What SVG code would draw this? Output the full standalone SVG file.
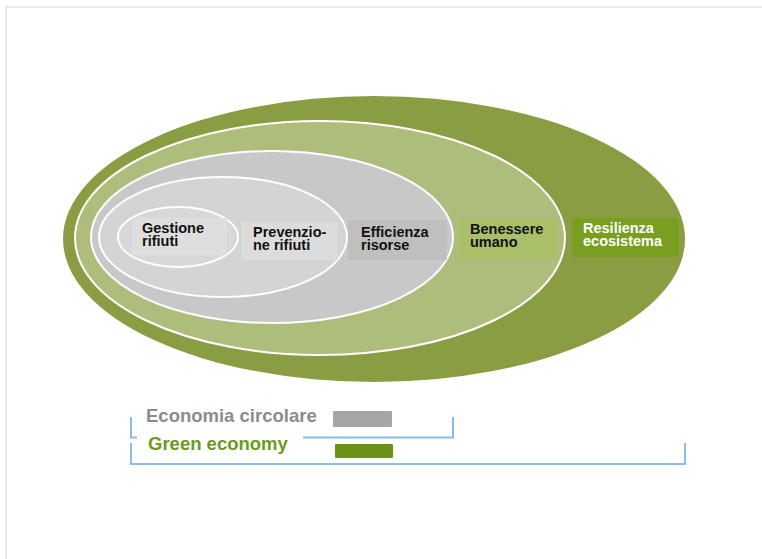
<svg xmlns="http://www.w3.org/2000/svg" width="762" height="559" viewBox="0 0 762 559">
<style>
.lbl{font-family:"Liberation Sans",Arial,sans-serif;font-weight:bold;font-size:14.5px;fill:#111}
.ring{stroke:#fff;stroke-width:2}
.br{fill:none;stroke:#8dbde6;stroke-width:2}
.leg{font-family:"Liberation Sans",Arial,sans-serif;font-weight:bold;font-size:18.5px}
</style>
<rect width="762" height="559" fill="#fff"/>
<path d="M6 559 V7 H762" fill="none" stroke="#e2e2e2" stroke-width="1.5"/>
<g id="n-resilienza">
<ellipse cx="374" cy="239" rx="311" ry="143" fill="#8a9d43"/>
</g>
<g id="n-benessere">
<ellipse class="ring" cx="320" cy="238" rx="245" ry="117" fill="#afbd7c"/>
</g>
<g id="n-efficienza">
<ellipse class="ring" cx="272" cy="237" rx="181" ry="86" fill="#c8c8c8"/>
</g>
<g id="n-prevenzione">
<ellipse class="ring" cx="223" cy="237" rx="124" ry="60" fill="#d4d4d4"/>
</g>
<g id="n-gestione">
<ellipse class="ring" cx="178" cy="237" rx="60" ry="30" fill="#d8d8d8"/>
</g>
<g id="labels">
<rect x="132" y="218" width="95" height="37" fill="#dedede"/>
<text class="lbl"><tspan x="142" y="233">Gestione</tspan><tspan x="142" y="246">rifiuti</tspan></text>
<rect x="242" y="222" width="96" height="38" fill="#dcdcdc"/>
<text class="lbl"><tspan x="253" y="237">Prevenzio-</tspan><tspan x="253" y="250">ne rifiuti</tspan></text>
<rect x="348" y="220" width="99" height="40" fill="#bfbfbf"/>
<text class="lbl"><tspan x="361" y="237">Efficienza</tspan><tspan x="361" y="250">risorse</tspan></text>
<rect x="459" y="219" width="98" height="39" fill="#a9bf68"/>
<text class="lbl"><tspan x="470" y="234">Benessere</tspan><tspan x="470" y="247">umano</tspan></text>
<rect x="572" y="218" width="106" height="39" fill="#789f20"/>
<text class="lbl" style="fill:#fff"><tspan x="583" y="233">Resilienza</tspan><tspan x="583" y="246">ecosistema</tspan></text>
</g>
<g id="connectors">
<path class="br" d="M131 417 V437.5 H137"/>
<path class="br" d="M303 437.5 H453 V417"/>
<path class="br" d="M131 443 V464 H685 V443"/>
</g>
<g id="legend">
<text class="leg" x="146" y="422" fill="#8c8c8c">Economia circolare</text>
<rect x="333" y="411" width="59" height="16" rx="1" fill="#a6a6a6"/>
<text class="leg" x="148" y="450" fill="#6b9a1f">Green economy</text>
<rect x="335" y="444" width="58" height="14" rx="1" fill="#6a9318"/>
</g>
</svg>
